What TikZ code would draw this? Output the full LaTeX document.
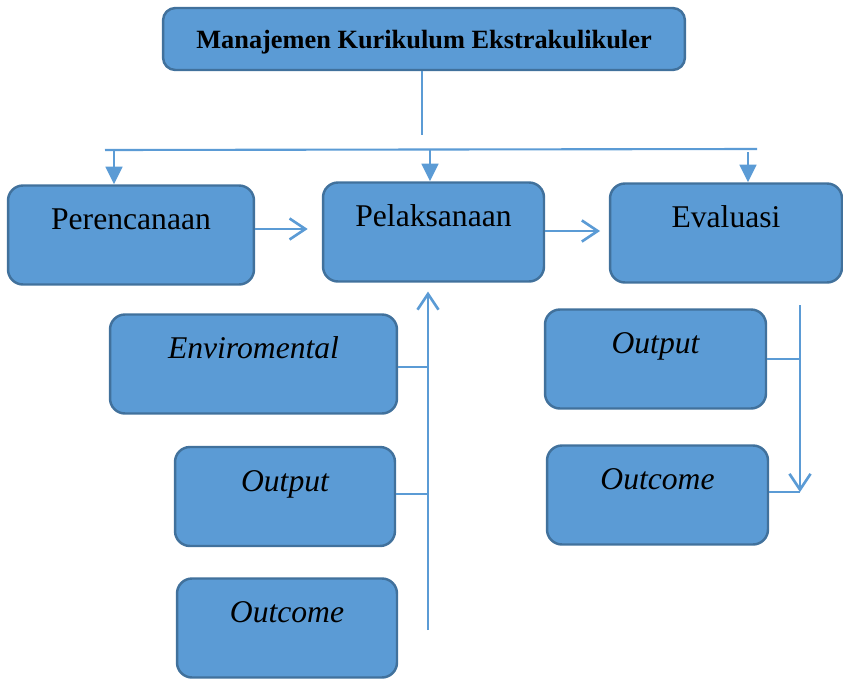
\documentclass[tikz,border=0pt]{standalone}
\usepackage{fontspec}
\setmainfont{Liberation Serif}
\definecolor{boxfill}{RGB}{91,155,213}
\definecolor{boxedge}{RGB}{65,113,156}
\definecolor{linkblue}{RGB}{91,155,213}
\usetikzlibrary{arrows.meta}

\begin{document}
\begin{tikzpicture}[
    x=0.02cm, y=-0.02cm,
    titlebox/.style={rectangle, rounded corners=7pt, draw=boxedge, line width=1.4pt,
                     fill=boxfill, inner ysep=0pt, text height=8mm, text depth=4.4mm,
                     align=center, font=\fontsize{15}{18}\selectfont\bfseries},
    stagebox/.style={rectangle, rounded corners=8.5pt, draw=boxedge, line width=1.4pt,
                     fill=boxfill, inner ysep=0pt, text height=8.8mm, text depth=11.0mm,
                     align=center, font=\fontsize{18}{21}\selectfont},
    subbox/.style={stagebox, font=\fontsize{18}{21}\selectfont\itshape},
    bus/.style={draw=linkblue, line width=1.2pt},
    feed/.style={draw=linkblue, line width=0.8pt},
    dnarrow/.style={draw=linkblue, line width=1.5pt,
                    -{Triangle[length=10pt, width=9.5pt]}},
    flow/.style={draw=linkblue, line width=1.5pt,
                 -{Straight Barb[length=9pt, width=12pt, line width=1.5pt]}}
  ]
    \useasboundingbox (0,0) rectangle (843,680);

    % Top: title
    \node[titlebox, minimum width=10.44cm] (judul) at (424,39)
      {Manajemen Kurikulum Ekstrakulikuler};

    % Three stages
    \node[stagebox, minimum width=4.92cm] (rencana) at (131,235)   {Perencanaan};
    \node[stagebox, minimum width=4.42cm] (laksana) at (433.5,232) {Pelaksanaan};
    \node[stagebox, minimum width=4.64cm] (evaluasi) at (726,233)  {Evaluasi};

    % Inputs of Pelaksanaan
    \node[subbox, minimum width=5.74cm] (env)   at (253.5,364) {Enviromental};
    \node[subbox, minimum width=4.40cm] (outL)  at (285,496.5) {Output};
    \node[subbox, minimum width=4.40cm] (ocL)   at (287,628)   {Outcome};

    % Parts of Evaluasi
    \node[subbox, minimum width=4.42cm] (outR)  at (655.5,359) {Output};
    \node[subbox, minimum width=4.42cm] (ocR)   at (657.5,495) {Outcome};

    % Split from the title to the stages
    \coordinate (split) at (422,135);
    \coordinate (busL)  at (105,150);
    \coordinate (busR)  at (757,149);
    \draw[feed] (judul.south -| split) -- (split);
    \draw[bus] (busL) -- (busR);
    \draw[dnarrow] (114,150) -- (rencana.north -| 114,0);
    \draw[dnarrow] (430,150) -- (laksana.north -| 430,0);
    \draw[dnarrow] (748,152) -- (evaluasi.north -| 748,0);

    % Flow between stages
    \draw[flow, shorten >=8pt] (rencana.east |- 0,229) -- (laksana.west |- 0,229);
    \draw[flow, shorten >=5pt] (laksana.east |- 0,231) -- (evaluasi.west |- 0,231);

    % Upward arrow into Pelaksanaan
    \coordinate (upfoot) at (428,630);
    \draw[flow, shorten >=5pt] (upfoot) -- (upfoot |- laksana.south);
    \draw[feed] (env.east |- 0,367) -- (upfoot |- 0,367);
    \draw[feed] (outL.east |- 0,494) -- (upfoot |- 0,494);

    % Downward arrow beside Evaluasi parts
    \coordinate (evtop) at (800,305);
    \coordinate (evfoot) at (800,492);
    \draw[flow] (evtop) -- (evfoot);
    \draw[feed] (outR.east |- 0,359) -- (evtop |- 0,359);
    \draw[feed] (ocR.east |- 0,492) -- (evfoot);
  \end{tikzpicture}
\end{document}
